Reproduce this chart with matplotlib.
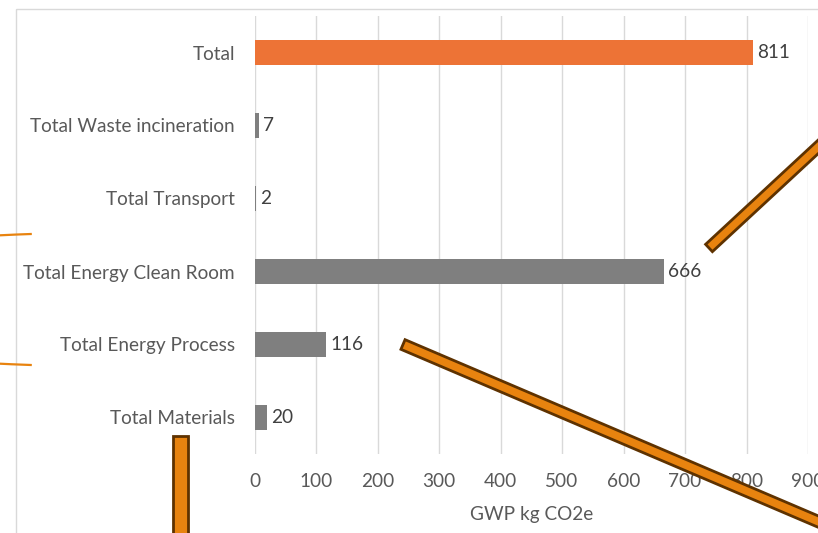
import numpy as np
import matplotlib
matplotlib.use("Agg")
import matplotlib.pyplot as plt
import matplotlib.transforms as mtransforms
from matplotlib.patches import Polygon, Rectangle
from matplotlib.lines import Line2D

# Global warming potential by contributor (kg CO2e)
categories = ["Total Materials", "Total Energy Process", "Total Energy Clean Room",
              "Total Transport", "Total Waste incineration", "Total"]
values = [20, 116, 666, 2, 7, 811]
bar_colors = ["#7f7f7f", "#7f7f7f", "#7f7f7f", "#7f7f7f", "#7f7f7f", "#ED7336"]
x_ticks = [0, 100, 200, 300, 400, 500, 600, 700, 800, 900]
x_label = "GWP kg CO2e"

W, H = 818, 533
FS = 13.7
plt.rcParams["font.family"] = ["Lato", "DejaVu Sans"]

fig = plt.figure(figsize=(W / 100, H / 100), dpi=100)

def fx(x):
    return x / W

def fy(y):
    return 1 - y / H

ax_left, ax_right = 254.5, 808.0
ax_top, ax_bottom = 16.0, 454.0
ax = fig.add_axes([fx(ax_left), fy(ax_bottom), (ax_right - ax_left) / W, (ax_bottom - ax_top) / H])

y = np.arange(len(categories))
ax.barh(y, values, height=0.356, color=bar_colors, zorder=2)
for yi, v in zip(y, values):
    ax.annotate(f"{v}", (v, yi), xytext=(3, 0), textcoords="offset points",
                va="center", ha="left", fontsize=FS, color="#404040")

ax.set_xlim(0, 900)
ax.set_ylim(-0.5, len(categories) - 0.5)
ax.set_xticks(x_ticks)
ax.set_yticks(y)
ax.set_yticklabels(categories)
ax.grid(axis="x", color="#d9d9d9", linewidth=1, zorder=0)
ax.set_axisbelow(True)
for s in ax.spines.values():
    s.set_visible(False)
ax.tick_params(axis="y", length=0, pad=14, labelsize=FS, labelcolor="#595959")
ax.tick_params(axis="x", length=0, pad=14, labelsize=FS, labelcolor="#595959")
ax.set_xlabel(x_label, fontsize=FS, color="#595959", labelpad=11)

# chart frame
px = mtransforms.Affine2D().scale(1 / W, -1 / H).translate(0, 1) + fig.transFigure
fig.patches.append(Rectangle((16, 9), 830, 540, transform=px, fill=False,
                             edgecolor="#d9d9d9", linewidth=1.0, figure=fig))

# hand-drawn overlay strokes
ORANGE = "#E8830F"
BROWN = "#5E3200"

def stroke(p0, p1, width):
    p0 = np.asarray(p0, float)
    p1 = np.asarray(p1, float)
    d = p1 - p0
    d /= np.hypot(*d)
    n = np.array([-d[1], d[0]]) * width / 2
    pts = [p0 + n, p1 + n, p1 - n, p0 - n]
    fig.patches.append(Polygon(pts, closed=True, transform=px, facecolor=ORANGE,
                               edgecolor=BROWN, linewidth=2.0, joinstyle="miter",
                               figure=fig, zorder=5))

stroke((709, 248), (709 + 109 * 1.3, 248 - 101 * 1.3), 10)
stroke((403, 344.5), (403 + 415 * 1.1, 344.5 + 177 * 1.1), 10.5)
stroke((180.5, 436), (180.5, 560), 14.5)

# bracket-like arc on the left
t = np.radians(np.linspace(100, 260, 200))
cx, cy, a, b = 92, 299.5, 353, 66.5
fig.lines.append(Line2D(cx + a * np.cos(t), cy + b * np.sin(t), transform=px,
                        color=ORANGE, linewidth=1.6, figure=fig, zorder=5))

fig.savefig("out.png", dpi=100)
